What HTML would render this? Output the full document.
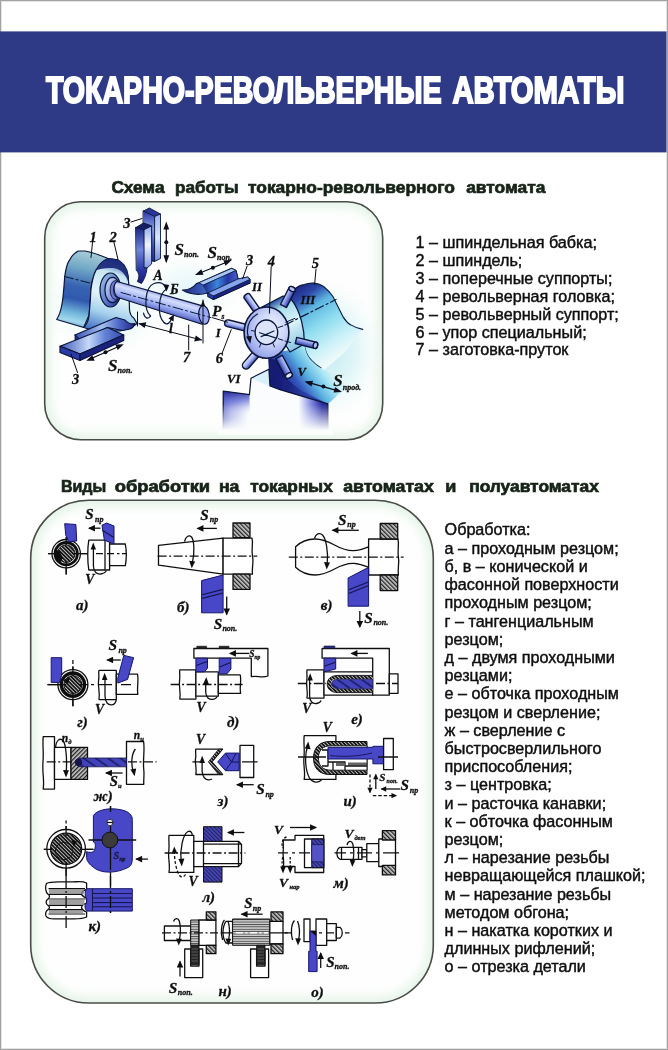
<!DOCTYPE html>
<html lang="ru">
<head>
<meta charset="utf-8">
<title>Токарно-револьверные автоматы</title>
<style>
html,body{margin:0;padding:0;background:#fff;}
body{width:668px;height:1050px;overflow:hidden;position:relative;font-family:"Liberation Sans",sans-serif;}
svg{position:absolute;left:0;top:0;display:block;}
text{font-family:"Liberation Sans",sans-serif;}
.ser text{font-family:"Liberation Serif",serif;font-style:italic;font-weight:bold;fill:#111;stroke:#111;stroke-width:0.3px;}
.hd{font-weight:bold;fill:#18241a;font-size:16.4px;stroke:#18241a;stroke-width:0.7px;}
.k{stroke:#111;stroke-width:1.3;fill:none}
.w{stroke:#111;stroke-width:1.3;fill:#fff}
.b{stroke:#16166a;stroke-width:1;fill:#4646c8}
.h{fill:url(#hatch);stroke:#111;stroke-width:1.3}
.ax{stroke:#111;stroke-width:1.3;stroke-dasharray:9 2.5 2 2.5;fill:none}
.li{font-size:16.15px;fill:#0a0a0a;stroke:#0a0a0a;stroke-width:0.4px;}
</style>
</head>
<body>
<svg width="668" height="1050" viewBox="0 0 668 1050">
<defs>
<filter id="soft" x="-5%" y="-5%" width="110%" height="110%"><feGaussianBlur stdDeviation="0.45"/></filter>
<filter id="soft2" x="-5%" y="-20%" width="110%" height="140%"><feGaussianBlur stdDeviation="0.35"/></filter>
<clipPath id="p1clip"><rect x="44.7" y="201.7" width="338" height="238" rx="36" ry="36"/></clipPath>
<clipPath id="p2clip"><rect x="30.7" y="500.2" width="402.6" height="502.8" rx="58" ry="58"/></clipPath>
<filter id="blur5" x="-10%" y="-10%" width="120%" height="120%"><feGaussianBlur stdDeviation="4"/></filter>
<!--TOPDEFS-->
<radialGradient id="glow"><stop offset="0" stop-color="#b4e6f0"/><stop offset="0.55" stop-color="#d2f1f5" stop-opacity="0.75"/><stop offset="1" stop-color="#eefafa" stop-opacity="0"/></radialGradient>
<linearGradient id="hsSide" gradientUnits="userSpaceOnUse" x1="84" y1="251" x2="68" y2="328"><stop offset="0" stop-color="#a8ccd8"/><stop offset="0.22" stop-color="#70a8c6"/><stop offset="0.45" stop-color="#3864b2"/><stop offset="0.62" stop-color="#2f58ae"/><stop offset="0.8" stop-color="#74b8dc"/><stop offset="0.9" stop-color="#a4d8ec"/><stop offset="1" stop-color="#5088c4"/></linearGradient>
<linearGradient id="hsFront" gradientUnits="userSpaceOnUse" x1="120" y1="262" x2="98" y2="330"><stop offset="0" stop-color="#3a5cb0"/><stop offset="0.18" stop-color="#c8e6f2"/><stop offset="0.5" stop-color="#e2f4fa"/><stop offset="0.75" stop-color="#a4d0ec"/><stop offset="1" stop-color="#4a78c8"/></linearGradient>
<linearGradient id="ring1" x1="0" y1="0" x2="1" y2="1"><stop offset="0" stop-color="#a4cae8"/><stop offset="0.5" stop-color="#6080d0"/><stop offset="1" stop-color="#1c2a88"/></linearGradient>
<linearGradient id="ring2" x1="0" y1="0" x2="1" y2="1"><stop offset="0" stop-color="#d0e0f8"/><stop offset="0.6" stop-color="#8296dc"/><stop offset="1" stop-color="#2c3aa0"/></linearGradient>
<linearGradient id="shaft" gradientUnits="userSpaceOnUse" x1="166" y1="293" x2="160" y2="314"><stop offset="0" stop-color="#7c8cdc"/><stop offset="0.28" stop-color="#d4defc"/><stop offset="0.6" stop-color="#9cacf0"/><stop offset="1" stop-color="#4450b8"/></linearGradient>
<linearGradient id="barA" x1="0" y1="0" x2="1" y2="0"><stop offset="0" stop-color="#3a52b4"/><stop offset="0.45" stop-color="#a4c0f0"/><stop offset="0.75" stop-color="#4a64c4"/><stop offset="1" stop-color="#1c2684"/></linearGradient>
<linearGradient id="barTop" x1="0" y1="0" x2="1" y2="0"><stop offset="0" stop-color="#3e58b8"/><stop offset="0.45" stop-color="#c4d8f8"/><stop offset="0.7" stop-color="#6484d6"/><stop offset="1" stop-color="#3448ac"/></linearGradient>
<linearGradient id="vbarA" x1="0" y1="0" x2="0" y2="1"><stop offset="0" stop-color="#2a34a0"/><stop offset="0.35" stop-color="#8aa0ea"/><stop offset="0.7" stop-color="#3c4cbc"/><stop offset="1" stop-color="#222a90"/></linearGradient>
<linearGradient id="vbarB" x1="0" y1="0" x2="0" y2="1"><stop offset="0" stop-color="#98aef0"/><stop offset="0.5" stop-color="#dce6fc"/><stop offset="1" stop-color="#7088e0"/></linearGradient>
<linearGradient id="vbarC" x1="0" y1="0" x2="0" y2="1"><stop offset="0" stop-color="#1c2484"/><stop offset="0.4" stop-color="#6f86de"/><stop offset="0.75" stop-color="#2c38a4"/><stop offset="1" stop-color="#1a2078"/></linearGradient>
<linearGradient id="vbarD" x1="0" y1="0" x2="0" y2="1"><stop offset="0" stop-color="#8ea6ee"/><stop offset="0.45" stop-color="#f0f4fe"/><stop offset="1" stop-color="#8096e6"/></linearGradient>
<linearGradient id="rtool" x1="0" y1="0" x2="1" y2="0"><stop offset="0" stop-color="#1e2684"/><stop offset="0.45" stop-color="#4a7ad6"/><stop offset="0.75" stop-color="#2a38a8"/><stop offset="1" stop-color="#5a70d4"/></linearGradient>
<linearGradient id="rtoolF" x1="0" y1="0" x2="1" y2="0"><stop offset="0" stop-color="#1e2a8c"/><stop offset="0.4" stop-color="#3c86dc"/><stop offset="0.7" stop-color="#2436a4"/><stop offset="1" stop-color="#4a62cc"/></linearGradient>
<linearGradient id="hump" gradientUnits="userSpaceOnUse" x1="300" y1="284" x2="345" y2="352"><stop offset="0" stop-color="#1c2684"/><stop offset="0.15" stop-color="#2c46a8"/><stop offset="0.32" stop-color="#5cb4e0"/><stop offset="0.55" stop-color="#8cdcf0"/><stop offset="0.8" stop-color="#c8f0f8"/><stop offset="1" stop-color="#eefafa"/></linearGradient>
<linearGradient id="bedL" gradientUnits="userSpaceOnUse" x1="223" y1="400" x2="328" y2="400"><stop offset="0" stop-color="#3a3cb0"/><stop offset="0.08" stop-color="#8c96e2"/><stop offset="0.24" stop-color="#fafcfe"/><stop offset="0.72" stop-color="#fafcfe"/><stop offset="0.84" stop-color="#8088de"/><stop offset="0.94" stop-color="#2c2ea4"/><stop offset="1" stop-color="#1e2088"/></linearGradient>
<linearGradient id="fadeW" x1="0" y1="0" x2="0" y2="1"><stop offset="0" stop-color="#fbfdfc" stop-opacity="0"/><stop offset="0.85" stop-color="#fbfdfc" stop-opacity="1"/></linearGradient>
<linearGradient id="turBody" gradientUnits="userSpaceOnUse" x1="275" y1="300" x2="300" y2="345"><stop offset="0" stop-color="#2a4aa0"/><stop offset="0.2" stop-color="#a8dcec"/><stop offset="0.55" stop-color="#dcf4f8"/><stop offset="1" stop-color="#8cc8e6"/></linearGradient>
<linearGradient id="pin" x1="0" y1="0" x2="0" y2="1"><stop offset="0" stop-color="#c8d2fa"/><stop offset="0.5" stop-color="#7a8ce0"/><stop offset="1" stop-color="#2c38a0"/></linearGradient>
<linearGradient id="pin2" x1="0" y1="0" x2="0" y2="1"><stop offset="0" stop-color="#3c48b0"/><stop offset="0.5" stop-color="#a8b6f2"/><stop offset="1" stop-color="#dfe6fc"/></linearGradient>
<radialGradient id="turFace" cx="0.62" cy="0.4" r="0.78"><stop offset="0" stop-color="#f2f5fe"/><stop offset="0.4" stop-color="#ccd6f8"/><stop offset="0.75" stop-color="#9aa8ec"/><stop offset="1" stop-color="#5a68cc"/></radialGradient>
<linearGradient id="slideBody" gradientUnits="userSpaceOnUse" x1="284" y1="386" x2="326" y2="356"><stop offset="0" stop-color="#1e2a8c"/><stop offset="0.25" stop-color="#3456bc"/><stop offset="0.5" stop-color="#5cb4e2"/><stop offset="0.75" stop-color="#a8e6f4"/><stop offset="1" stop-color="#dff6fa" stop-opacity="0.2"/></linearGradient>
<linearGradient id="wedge" gradientUnits="userSpaceOnUse" x1="270" y1="380" x2="310" y2="392"><stop offset="0" stop-color="#171a70"/><stop offset="0.45" stop-color="#1b2280"/><stop offset="1" stop-color="#2c44ac"/></linearGradient>
<linearGradient id="bedTopShade" gradientUnits="userSpaceOnUse" x1="236" y1="391" x2="238" y2="418"><stop offset="0" stop-color="#2a2c9c"/><stop offset="0.35" stop-color="#6a74d4" stop-opacity="0.8"/><stop offset="1" stop-color="#fafcfe" stop-opacity="0"/></linearGradient>
<!--/TOPDEFS-->
<!--BOTDEFS-->
<pattern id="hatch" patternUnits="userSpaceOnUse" width="3" height="3" patternTransform="rotate(-45)"><rect width="3" height="3" fill="#c8c8c8"/><rect width="1.3" height="3" fill="#222"/></pattern>
<pattern id="hatchD" patternUnits="userSpaceOnUse" width="2.6" height="2.6" patternTransform="rotate(-45)"><rect width="2.6" height="2.6" fill="#c4c4c4"/><rect width="1.7" height="2.6" fill="#111"/></pattern>
<pattern id="hatchB" patternUnits="userSpaceOnUse" width="2.8" height="2.8" patternTransform="rotate(-45)"><rect width="2.8" height="2.8" fill="#4a4ab8"/><rect width="1.2" height="2.8" fill="#20206a"/></pattern>
<pattern id="knurl" patternUnits="userSpaceOnUse" width="3" height="2.4"><rect width="3" height="2.4" fill="#cfcfcf"/><rect width="3" height="0.9" fill="#444"/></pattern>
<pattern id="twist" patternUnits="userSpaceOnUse" width="7" height="7" patternTransform="rotate(-55)"><rect width="7" height="7" fill="#4343bb"/><rect width="1.6" height="7" fill="#1a1a66"/></pattern>
<marker id="ah" viewBox="0 0 10 10" refX="8.5" refY="5" markerWidth="8.8" markerHeight="7" orient="auto-start-reverse" markerUnits="userSpaceOnUse"><path d="M0,0.3 L10,5 L0,9.7 Z" fill="#111"/></marker>
<marker id="ahs" viewBox="0 0 10 10" refX="8.5" refY="5" markerWidth="6.8" markerHeight="5.6" orient="auto-start-reverse" markerUnits="userSpaceOnUse"><path d="M0,0.3 L10,5 L0,9.7 Z" fill="#111"/></marker>
<pattern id="hatchF" patternUnits="userSpaceOnUse" width="3" height="3" patternTransform="rotate(45)"><rect width="3" height="3" fill="#c8c8c8"/><rect width="1.3" height="3" fill="#222"/></pattern>
<!--/BOTDEFS-->
</defs>
<!-- page -->
<rect x="0" y="0" width="668" height="1050" fill="#ffffff"/>
<!-- page frame -->
<rect x="1.5" y="1.5" width="665" height="1047" fill="none" stroke="#e4e4e4" stroke-width="1"/>
<rect x="0.5" y="0.5" width="667" height="1049" fill="none" stroke="#a2a2a2" stroke-width="1"/>
<!-- title band -->
<rect x="0" y="31.4" width="666.5" height="121" fill="#2e3a86"/>
<g filter="url(#soft2)" font-size="37.4" font-weight="bold" fill="#ffffff" stroke="#ffffff" stroke-width="2" stroke-linejoin="miter">
<text x="45.9" y="102.6" textLength="395.6" lengthAdjust="spacingAndGlyphs">ТОКАРНО-РЕВОЛЬВЕРНЫЕ</text>
<text x="452.4" y="102.6" textLength="172" lengthAdjust="spacingAndGlyphs">АВТОМАТЫ</text>
</g>

<g filter="url(#soft)">
<!-- headings -->
<text class="hd" x="111.4" y="192.6" textLength="53.1" lengthAdjust="spacingAndGlyphs">Схема</text>
<text class="hd" x="175.0" y="192.6" textLength="63.5" lengthAdjust="spacingAndGlyphs">работы</text>
<text class="hd" x="248.0" y="192.6" textLength="206.8" lengthAdjust="spacingAndGlyphs">токарно-револьверного</text>
<text class="hd" x="466.2" y="192.6" textLength="79.1" lengthAdjust="spacingAndGlyphs">автомата</text>
<text class="hd" x="60.9" y="492.4" textLength="45.4" lengthAdjust="spacingAndGlyphs">Виды</text>
<text class="hd" x="114.7" y="492.4" textLength="95.4" lengthAdjust="spacingAndGlyphs">обработки</text>
<text class="hd" x="218.9" y="492.4" textLength="20.5" lengthAdjust="spacingAndGlyphs">на</text>
<text class="hd" x="250.2" y="492.4" textLength="82.6" lengthAdjust="spacingAndGlyphs">токарных</text>
<text class="hd" x="343.2" y="492.4" textLength="90.6" lengthAdjust="spacingAndGlyphs">автоматах</text>
<text class="hd" x="445.2" y="492.4" textLength="11.1" lengthAdjust="spacingAndGlyphs">и</text>
<text class="hd" x="469.2" y="492.4" textLength="129.6" lengthAdjust="spacingAndGlyphs">полуавтоматах</text>

<!-- panels -->
<rect x="44.7" y="201.7" width="338" height="238" rx="36" ry="36" fill="#fdfefd" stroke="none"/>
<g clip-path="url(#p1clip)"><rect x="44.7" y="201.7" width="338" height="238" rx="36" ry="36" fill="none" stroke="#d2ecd8" stroke-width="12" filter="url(#blur5)" opacity="0.55"/></g>
<rect x="44.7" y="201.7" width="338" height="238" rx="36" ry="36" fill="none" stroke="#484c46" stroke-width="1.6"/>
<rect x="30.7" y="500.2" width="402.6" height="502.8" rx="58" ry="58" fill="#fdfefd" stroke="none"/>
<g clip-path="url(#p2clip)"><rect x="30.7" y="500.2" width="402.6" height="502.8" rx="58" ry="58" fill="none" stroke="#d2ecd8" stroke-width="12" filter="url(#blur5)" opacity="0.55"/></g>
<rect x="30.7" y="500.2" width="402.6" height="502.8" rx="58" ry="58" fill="none" stroke="#484c46" stroke-width="1.6"/>

<!--TOP-->
<!-- ===== TOP DIAGRAM ===== -->
<g id="topdiag" stroke-linejoin="round" stroke-linecap="round">
<!-- soft cyan glow backgrounds -->
<ellipse cx="105" cy="305" rx="60" ry="50" fill="url(#glow)" opacity="0.55"/>
<ellipse cx="322" cy="350" rx="62" ry="70" fill="url(#glow)" opacity="0.9"/>
<ellipse cx="190" cy="290" rx="50" ry="35" fill="url(#glow)" opacity="0.35"/>

<!-- headstock 1 -->
<path d="M56.7,319.5 C59.5,315 61,310 62,304 C63.5,296 63.8,288 64.8,276 C66,268 67,264 68.9,261.2 C71.5,256 74,253 78.3,251 L85,251 C94,252.5 102,256 108,258.5 L117.4,259.8 L96,270 L91.5,284 L90.4,299 L89.1,315 L83.7,327.5 Z" fill="url(#hsSide)" stroke="#0a1438" stroke-width="1.2"/>
<path d="M83.7,327.5 C87,324 88.8,319 89.1,315 L90.4,299 C90.6,292 91,288 91.8,284 C92.8,278 94,274 95.8,270.6 C99,264 103,260.5 108,258.5 L117.4,259.8 C120.5,261 122.5,263 124.1,265.2 C126.5,268.5 127.6,272 128.2,276 L128.8,285.4 L129.5,309.7 C130,314 131.5,316.5 133.6,317.8 C135,319.5 136,321.5 137,323.5 L131,328 L120,331 L95,331 Z" fill="url(#hsFront)" stroke="#0a1438" stroke-width="1.2"/>
<path d="M95.8,270.6 C99,264 103,260.5 108,258.5 L117.4,259.8 C120.5,261 122.5,263 124.1,265.2 C126.5,268.5 127.6,272 128.2,276 L128.6,283 C126,274 120,268.5 113,268 C106,267.6 100,268.6 95.8,270.6 Z" fill="#1a2878" stroke="none" opacity="0.92"/>

<path d="M64.5,276.5 L92,283.5" stroke="#0a1a3a" stroke-width="1.1" stroke-dasharray="9 3 2 3" fill="none"/>
<!-- spindle rings -->
<ellipse cx="110.5" cy="290" rx="10.5" ry="17" fill="url(#ring1)" stroke="#0a1438" stroke-width="1.2"/>
<ellipse cx="112.5" cy="290" rx="7.6" ry="12.6" fill="url(#ring2)" stroke="#0a1438" stroke-width="1.2"/>
<ellipse cx="115.5" cy="290" rx="5.4" ry="9.4" fill="#6a78d0" stroke="#0a1a3a" stroke-width="0.9"/>
<ellipse cx="117.5" cy="290" rx="4" ry="7.6" fill="#aab8ec" stroke="#0a1a3a" stroke-width="0.8"/>

<path d="M117,281.5 L203.4,306.2 C209.5,309 209.5,321 202,324.2 L118,297.5 C113,295 113,283.5 117,281.5 Z" fill="url(#shaft)" stroke="#0a1438" stroke-width="1.2"/>
<ellipse cx="204" cy="315" rx="5.2" ry="9.3" transform="rotate(-8 204 315)" fill="#98a8f2" stroke="#0a1438" stroke-width="1.2"/>
<path d="M121,292.5 L211,317.6" stroke="#0a1a3a" stroke-width="1" stroke-dasharray="10 3 2 3" fill="none"/>
<!-- rotation rings on shaft -->
<path d="M150.5,316 C143,309 145,287 154,283.5 C161,281 165,284 166,289" fill="none" stroke="#0a1a3a" stroke-width="1.2"/>
<path d="M150.5,316 C148,320 144.5,318 143.5,313" fill="none" stroke="#0a1438" stroke-width="1.2"/>
<path d="M164,322.5 C157,316 158,294 166.5,289" fill="none" stroke="#0a1a3a" stroke-width="1.2"/>
<path d="M164,322.5 C167,325.5 170,323 171.5,319" fill="none" stroke="#0a1a3a" stroke-width="1.2"/>
<path d="M163.2,284 L169.2,285 L166.6,291.5 Z" fill="#0a0a1a" stroke="none"/>
<path d="M174,314.5 L168.5,318.5 L173.5,321.5 Z" fill="#0a0a1a" stroke="none"/>

<!-- lower-left slides (3) -->
<path d="M75,335 L116,317.5 L125,320 C127,322.5 130,324.5 135,323.7 C134,326 132.5,328 130,329 L122.5,330.5 L107.5,327.5 L80,340.5 Z" fill="url(#barA)" stroke="#0a1438" stroke-width="1.2"/>
<path d="M75,335 L75,341 L80,344.5 L80,340.5 Z" fill="#24308c" stroke="#0a1a3a" stroke-width="0.8"/>
<path d="M60,346.3 L107.5,327.5 L123.7,335 L80,354 Z" fill="url(#barTop)" stroke="#0a1438" stroke-width="1.2"/>
<path d="M60,346.3 L60,352.5 L80,360.5 L80,354 Z" fill="#2a3aa8" stroke="#0a1438" stroke-width="1.2"/>
<path d="M80,354 L123.7,335 L123.7,340.5 L80,360.5 Z" fill="#1c2480" stroke="#0a1438" stroke-width="1.2"/>

<!-- vertical tool (3 top) -->
<path d="M143.4,211 L149.3,208 L160.5,214 L154.6,216.5 Z" fill="#2a3498" stroke="#0a1a3a" stroke-width="0.9"/>
<path d="M154.6,216.5 L160.5,214 L160.5,258.5 L154.6,261.5 Z" fill="url(#vbarB)" stroke="#0a1a3a" stroke-width="0.9"/>
<path d="M143.4,211 L154.6,216.5 L154.6,261.5 L151.6,261 L151.6,226 L143.4,223 Z" fill="url(#vbarA)" stroke="#0a1a3a" stroke-width="0.9"/>
<path d="M135.9,227.5 L143.4,223 L151.6,226 L144,229.7 Z" fill="#161c6c" stroke="#0a1a3a" stroke-width="0.9"/>
<path d="M144,229.7 L151.6,226 L151.6,264 L147,268 L144,268 Z" fill="url(#vbarD)" stroke="#0a1a3a" stroke-width="0.9"/>
<path d="M135.9,227.5 L144,229.7 L144,268 L147,268 C146.5,274 144.5,279 141.5,283.5 L137.3,281.5 C139.5,277.5 139.5,273.5 136.5,270.5 Z" fill="url(#vbarC)" stroke="#0a1a3a" stroke-width="0.9"/>

<!-- right tool (3) -->
<path d="M182.4,290 C188,290 193,288 196.5,283.5 L199.4,282.6 L231.6,268.4 L236,270.5 L238,279 L247.5,277 L250,279.5 L250,283 L213.5,299.5 L208,296.5 L208,293 C200,295 190,294.5 182.4,290 Z" fill="url(#rtool)" stroke="#0a1438" stroke-width="1.2"/>
<path d="M199.4,282.6 L231.6,268.4 L236,270.5 L203.5,285 Z" fill="#a8c6f6" stroke="#0a1a3a" stroke-width="0.7"/>
<path d="M203.5,285 L236,270.5 L238,279 L208,293 Z" fill="url(#rtoolF)" stroke="#0a1a3a" stroke-width="0.7"/>
<path d="M208,293 L238,279 L247.5,277 L250,279.5 L213.5,296 Z" fill="#86a4ec" stroke="#0a1a3a" stroke-width="0.7"/>
<path d="M213.5,296 L250,279.5 L250,283 L213.5,299.5 Z" fill="#1c2480" stroke="#0a1a3a" stroke-width="0.7"/>
<path d="M208,293 L213.5,296 L213.5,299.5 L208,296.5 Z" fill="#2a3aa8" stroke="#0a1a3a" stroke-width="0.7"/>

<!-- turret slide 5 (hump) -->
<path d="M294.7,289 C298,286 301,285 304.4,284.5 C308,283 311,282.8 313.4,283 C318,283.5 321,284.5 323.9,286.7 C328,290 330.5,293 332.9,296.5 L337.4,305.4 L343.4,317.4 C346,321.5 348,323.5 350.8,324.9 C355,327.5 359,328.8 362.8,329.4 L345,352 L322,372 L306,372 L290,350 L284,315 Z" fill="url(#hump)" stroke="none"/>
<path d="M294.7,289 C298,286 301,285 304.4,284.5 C308,283 311,282.8 313.4,283 C318,283.5 321,284.5 323.9,286.7 C328,290 330.5,293 332.9,296.5 L337.4,305.4 L343.4,317.4 C346,321.5 348,323.5 350.8,324.9 C355,327.5 359,328.8 362.8,329.4" fill="none" stroke="#0a1a3a" stroke-width="1.1"/>
<path d="M304,343 C305,352 308.5,358 312,361 C315,364.5 318,366.5 321,368" fill="none" stroke="#0a1438" stroke-width="1.2"/>

<!-- bed / base -->
<path d="M268.9,369.2 L268.5,354 L290,350 L304.4,343 C305,352 308.5,358 312,361 C315,364.5 318,366.5 321,368 L350,384 L327.9,403.9 L280,389.7 L270,386 Z" fill="url(#slideBody)" stroke="none"/>
<path d="M223.2,391 L249.4,394.6 L251,378.2 L268.9,369.2 L270,386 L280,389.7 L327.9,403.9 L327.9,434 L223.2,434 Z" fill="url(#bedL)" stroke="none"/>
<path d="M223.2,391 L249.4,394.6 L250,420 L223.2,420 Z" fill="url(#bedTopShade)" stroke="none"/>
<path d="M251,378.2 L268.9,369.2 L270,386 L262,383 Z" fill="#d8f0f8" stroke="none"/>
<path d="M268.3,358 L286,362 L288,380 L300,390 L327.9,403.9 L280,389.7 L270,386 L268.9,369.2 Z" fill="url(#wedge)" stroke="none"/>
<path d="M223.2,434 L223.2,391 L249.4,394.6 L251,378.2 L268.9,369.2 L270,386 L280,389.7 L327.9,403.9 L327.9,433" fill="none" stroke="#0a1438" stroke-width="1.2"/>
<rect x="218" y="404" width="115" height="31" fill="url(#fadeW)" stroke="none"/>

<!-- turret cylinder body -->
<path d="M262,307 L283,296 C287,296 289.5,297 291,299 C296,305 299,312 301.5,321 C304,330 304.5,338 304.4,344 L290,352 Z" fill="url(#turBody)" stroke="#0a1438" stroke-width="1.2"/>
<!-- pins -->
<g stroke="#0a1438" stroke-width="1.4">
<path d="M0,-3.4 L19,-3.4 A2.3,3.4 0 0 1 19,3.4 L0,3.4 Z" transform="translate(283.5,306) rotate(-63)" fill="url(#pin)"/>
<ellipse cx="0" cy="0" rx="2.3" ry="3.4" transform="translate(292.1,289.1) rotate(-63)" fill="#b6c2f6"/>
<path d="M0,-3.4 L19,-3.4 A2.3,3.4 0 0 1 19,3.4 L0,3.4 Z" transform="translate(258,312) rotate(-125)" fill="url(#pin2)"/>
<path d="M0,-3.4 L18.5,-3.4 A3.4,3.4 0 0 1 18.5,3.4 L0,3.4 Z" transform="translate(246,327.8) rotate(-166)" fill="url(#pin2)"/>
<path d="M0,-3.2 L20,-3.2 A2.2,3.2 0 0 1 20,3.2 L0,3.2 Z" transform="translate(296,340.5) rotate(14)" fill="url(#pin)"/>
<ellipse cx="0" cy="0" rx="2.2" ry="3.2" transform="translate(315.4,345.3) rotate(14)" fill="#b6c2f6"/>
<path d="M0,-3.7 L15,-3.7 A3.7,3.7 0 0 1 15,3.7 L0,3.7 Z" transform="translate(256,354) rotate(131)" fill="url(#pin2)"/>
<path d="M0,-3.7 L21,-3.7 A2.4,3.7 0 0 1 21,3.7 L0,3.7 Z" transform="translate(279,357) rotate(62)" fill="url(#pin)"/>
<ellipse cx="0" cy="0" rx="2.4" ry="3.7" transform="translate(288.9,375.5) rotate(62)" fill="#e0e6fc"/>
</g>
<!-- turret front disc -->
<ellipse cx="266.5" cy="332.6" rx="22.4" ry="25.6" fill="url(#turFace)" stroke="#0a1438" stroke-width="1.6"/>
<ellipse cx="266.4" cy="332.3" rx="11.3" ry="12.3" fill="#dce4fc" stroke="#0a1438" stroke-width="1.4"/>
<path d="M259.6,332.7 L275.4,337.9 M261.1,336.6 L273.9,331" stroke="#0a1a3a" stroke-width="1.2" fill="none"/>
<path d="M257.4,314 C250,318.5 247,326 247.5,333 L248.6,339" fill="none" stroke="#0a1a3a" stroke-width="1.2"/>
<path d="M246,336.5 L250.3,343.8 L251.8,336 Z" fill="#0a0a1a"/>
<g stroke="#0a1a3a" stroke-width="1" fill="none">
<path d="M251.5,330.5 L254.5,331.2"/><path d="M278.3,327.5 L282.8,326"/><path d="M278.3,338.7 L282.8,340.2"/>
<path d="M285.8,322.2 L294.8,318.4"/><path d="M285,341 L290.5,342.5"/><path d="M261,343.5 L259.5,347"/><path d="M273,343.5 L274.5,347"/>
</g>
<!-- turret axis -->
<path d="M285,325 L336,299.5" stroke="#0a1a3a" stroke-width="1.2" stroke-dasharray="9 3 2 3" fill="none"/>

<!-- leaders / dimension lines -->
<g stroke="#0a0a1a" stroke-width="1" fill="none">
<path d="M137.5,312 L137.5,326"/>
<path d="M203,300 L203,343"/>
<path d="M139,323.7 L201.5,340"/>
<path d="M188.7,325 L188.7,350"/>
<path d="M71,354 L77.5,372.5"/>
<path d="M271.2,266.7 L269.4,313.2"/>
<path d="M316,269 L314.6,284.5"/>
<path d="M247.2,266 L242.7,278.5"/>
<path d="M92.5,242.5 L91,257.5"/>
<path d="M114,242.5 L118,259.5"/>
<path d="M131,222 L142,218.5"/>
<path d="M231.2,329.7 L222.2,353"/>
<path d="M212.5,317.7 L227.5,322.2"/>
<path d="M166.3,225 L166.3,261" stroke-width="1.2"/>
<path d="M198,273.8 L229,261.2" stroke-width="1.2"/>
<path d="M89,359.5 L121,345.5" stroke-width="1.2"/>
<path d="M307,382.2 L339,391.2" stroke-width="1.2"/>
</g>
<g fill="#0a0a1a" stroke="none">
<path d="M138.5,323.6 L146.3,322.3 L144.7,328.1 Z"/>
<path d="M202,340.1 L194.2,341.4 L195.8,335.6 Z"/>
<path d="M166.3,221.5 L163.4,229.5 L169.2,229.5 Z"/>
<path d="M166.3,263.2 L163.4,255.2 L169.2,255.2 Z"/>
<circle cx="166.3" cy="242.2" r="2"/>
<path d="M195,275 L203.5,274.7 L201.3,269.3 Z"/>
<path d="M231.8,260 L223.3,260.3 L225.5,265.7 Z"/>
<circle cx="212.9" cy="267.7" r="2"/>
<path d="M86.3,360.8 L94.7,360.7 L92.3,355.2 Z"/>
<path d="M123.7,344.3 L115.3,344.4 L117.7,349.9 Z"/>
<circle cx="105.5" cy="352.3" r="2"/>
<path d="M304.5,381.4 L313,380.8 L311.4,386.5 Z"/>
<path d="M342,392 L333.5,392.6 L335.1,386.9 Z"/>
<circle cx="323.4" cy="386.6" r="2"/>
<path d="M203,300 L200.8,306 L205.2,306 Z"/>
</g>

<!-- labels -->
<g class="ser">
<text x="89.5" y="241.7" font-size="14.5">1</text>
<text x="109.5" y="241.7" font-size="14.5">2</text>
<text x="123.3" y="227.5" font-size="14.5">3</text>
<text x="246" y="265.2" font-size="14.5">3</text>
<text x="267.8" y="266" font-size="14.5">4</text>
<text x="311.8" y="267.5" font-size="14.5">5</text>
<text x="215.8" y="363.2" font-size="14.5">6</text>
<text x="183" y="361.5" font-size="14.5">7</text>
<text x="72" y="384" font-size="14.5">3</text>
<text x="153.5" y="280.2" font-size="13.6">А</text>
<text x="170" y="293.7" font-size="13.6">Б</text>
<text x="169" y="333" font-size="13.6">l</text>
<text x="252" y="291.4" font-size="12.7">II</text>
<text x="300.5" y="304" font-size="12.7">III</text>
<text x="215.8" y="337.2" font-size="12.7">I</text>
<text x="227" y="382.7" font-size="12.7">VI</text>
<text x="297.5" y="376" font-size="12.7">V</text>
<text x="212.3" y="315.5" font-size="15">P</text><text x="221.5" y="318.6" font-size="7.5">s</text>
<text x="174.6" y="255" font-size="17">S</text><text x="184" y="257.2" font-size="8">поп.</text>
<text x="207.6" y="258" font-size="17">S</text><text x="217" y="260.2" font-size="8">поп.</text>
<text x="108" y="370.5" font-size="17">S</text><text x="117.6" y="373" font-size="8">поп.</text>
<text x="333.2" y="386" font-size="17">S</text><text x="342.8" y="389.7" font-size="8">прод.</text>
</g>
</g>
<!--/TOP-->

<!--BOT-->
<!-- ===== BOTTOM DIAGRAMS ===== -->
<g id="botdiag" stroke-linejoin="round">
<!-- (a) -->
<g>
<path class="k" d="M48.2,553.7 H126.8 M66.2,537.2 V574.6"/>
<circle cx="66.2" cy="553.7" r="14.2" class="w"/>
<circle cx="66.2" cy="553.7" r="11.2" fill="#fff" stroke="#111" stroke-width="2.8"/>
<circle cx="66.2" cy="553.7" r="8.8" fill="url(#hatchD)" stroke="#111" stroke-width="1"/>
<path d="M56,549 A11.3,11.3 0 0 0 60,563 L63,558 L60,552 Z" fill="#111"/>
<path class="k" d="M48.2,553.7 H58 M74,553.7 H88 M66.2,537.2 V545 M66.2,562 V574.6"/>
<path class="b" d="M64.7,523.7 L75.9,524.5 L76.7,541 L68.4,541.7 L67,537.5 L65.8,535.5 Z"/>
<path class="w" d="M88.8,540.2 H109.6 V570 H88.8 C87.4,562 87.4,548 88.8,540.2 Z"/>
<path class="w" d="M109.6,544 H125.3 C126.4,550 126.4,560 125.3,565.6 H109.6 Z"/>
<path class="k" d="M105,540.2 V570"/>
<path class="k" d="M96,553.7 H103 M107,553.7 H114 M117,553.7 h2.5 M122,553.7 H126.8"/>
<path class="b" d="M102,525.2 L106.6,523 L114,526 L114,544 L104.4,540.2 Z"/>
<path d="M102.6,530.5 L113.6,537.3" stroke="#15154a" stroke-width="1.2" fill="none"/>
<path class="k" d="M93.4,546 V566 C93.6,572 97,574.5 101,574 C103.5,573.7 105.3,572.6 106.3,571" stroke-width="1.3"/>
<path d="M93.3,542.6 L90.6,549.6 L96,549.6 Z" fill="#111"/>
<path class="k" d="M100.5,528.2 H89" marker-end="url(#ah)" stroke-width="1.8"/>
<g class="ser"><text x="85.3" y="519.2" font-size="15">S</text><text x="95.0" y="521.6" font-size="8">пр</text>
<text x="85.3" y="584.3" font-size="13.6">V</text><text x="75.9" y="610" font-size="15">а)</text></g>
</g>
<!-- (b) -->
<g>
<path class="w" d="M158.5,545.4 L223.1,538.2 V574.2 L158.5,565.2 Z"/>
<path class="w" d="M223.1,538.2 H252 C253.5,544 251,550 252.5,556 C254,562 251.5,568 252.5,574.2 H223.1 Z"/>
<rect class="h" x="233" y="523" width="17" height="14.6"/>
<rect class="h" x="233" y="574.2" width="17" height="15.2"/>
<path class="ax" d="M157.6,556.2 H257.3"/>
<path class="b" d="M201.6,580.6 L223.1,575 V612.8 H201.6 Z"/>
<path d="M202.2,594.8 L223,589.4 M202.2,598.4 L223,593" stroke="#15154a" stroke-width="1.1" fill="none"/>
<path class="k" d="M184.5,541.5 C185.5,536.5 189,534.5 191.5,537 C194,540 195,552 192.3,563" stroke-width="1.2"/>
<path d="M191.7,568.2 L189.2,560.8 L195.2,561.4 Z" fill="#111"/>
<path class="k" d="M216.9,528.4 H197.5" marker-end="url(#ah)" stroke-width="1.8"/>
<path class="k" d="M226.7,596.6 V614.5" marker-end="url(#ah)" stroke-width="1.8"/>
<g class="ser"><text x="200.2" y="520.3" font-size="15.2">S</text><text x="209.8" y="522.4" font-size="8">пр</text>
<text x="213.8" y="629" font-size="15.2">S</text><text x="222.4" y="630.9" font-size="8">поп.</text>
<text x="176.9" y="612.3" font-size="15">б)</text></g>
</g>
<!-- (v) -->
<g>
<path class="w" d="M295.6,546.8 C301,541.5 308,539 315,539 C323,539 329,542 334.5,545 C341,548.6 347,551 354,550.7 C360,550.4 364,548.5 368.6,546.8 V567.3 C364,565.6 360,563.8 354,563.4 C347,563 341,565.5 334.5,569 C329,572 323,575 315,575 C308,575 301,572.5 295.6,567.3 Z"/>
<path class="w" d="M368.6,539 H398 C399.3,545 397.2,551 398.4,557 C399.6,563 397.4,569 398.4,575 H368.6 Z"/>
<rect class="h" x="380.2" y="523.5" width="17.5" height="15.5"/>
<rect class="h" x="380.2" y="575" width="17.5" height="15.6"/>
<path class="ax" d="M288.8,557.2 H403.6"/>
<path class="b" d="M348.1,578 L368.6,567.3 V606.2 H348.1 Z"/>
<path d="M348.8,589.8 L368.4,581.9 M348.8,593.4 L368.4,585.5" stroke="#15154a" stroke-width="1.1" fill="none"/>
<path class="k" d="M314.5,538.5 C315.5,534 319.5,532 322.5,535 C326,538.6 328.5,552 327.2,564" stroke-width="1.2"/>
<path d="M326.7,569.4 L324,562 L330,562.4 Z" fill="#111"/>
<path class="k" d="M358.8,530.3 H332.5" marker-end="url(#ah)" stroke-width="1.8"/>
<path class="k" d="M359.8,611 V627" marker-end="url(#ah)" stroke-width="1.8"/>
<g class="ser"><text x="338" y="524.5" font-size="15.2">S</text><text x="347.2" y="526.6" font-size="8">пр</text>
<text x="364.3" y="622.7" font-size="15.2">S</text><text x="373.4" y="624.6" font-size="8">поп.</text>
<text x="320.7" y="610" font-size="15">в)</text></g>
</g>
<!-- (g) -->
<g>
<path class="k" d="M47.5,684.6 H60 M66,684.6 h3 M72.9,660 v4 M72.9,666.5 V706.3"/>
<circle cx="72.9" cy="684.6" r="15" class="w"/>
<circle cx="72.9" cy="684.6" r="11.6" fill="#fff" stroke="#111" stroke-width="3.4"/>
<circle cx="72.9" cy="684.6" r="9" fill="url(#hatchD)" stroke="#111" stroke-width="1"/>
<path d="M63,680 L70,677 L68,684 Z" fill="#111"/>
<path class="k" d="M72.9,666.5 V676 M72.9,693 V706.3 M58,684.6 H66 M80,684.6 H88 M91,684.6 h3"/>
<path class="b" d="M51.2,657.7 H61.7 V675 L59.5,682.4 H51.2 Z"/>
<path class="k" d="M47.5,684.6 H60" stroke-width="1.3"/>
<path class="w" d="M99,670.4 H116.3 V699.6 H99 C100.2,692 97.6,686 98.6,680 C99.4,676 98.2,673 99,670.4 Z"/>
<path class="w" d="M116.3,674.2 H137.5 C138.8,680 136.8,688 137.8,694.4 H116.3 Z"/>
<path class="k" d="M98,684.6 H112 M121,684.6 H131"/>
<path class="b" d="M123.8,655.4 L133.6,657.7 L127.6,679.4 L117.8,683.1 L117.8,678 Z"/>
<path class="k" d="M105,676.5 V696 C105.2,702.5 108,705.3 112,704.8 C114.4,704.4 115.8,702.6 116.3,699.6" stroke-width="1.3"/>
<path d="M104.6,672.8 L101.9,680 L107.5,680 Z" fill="#111"/>
<path class="k" d="M120.8,660 H107.2" marker-end="url(#ah)" stroke-width="1.8"/>
<g class="ser"><text x="108.5" y="649.5" font-size="15.4">S</text><text x="118.4" y="652.6" font-size="8">пр</text>
<text x="95" y="713.8" font-size="13.6">V</text><text x="77.2" y="727.3" font-size="15">г)</text></g>
</g>
<!-- (d) -->
<g>
<path class="w" d="M179.8,669.9 H195.9 V699.1 H179.8 C181,692 178.6,686 179.6,680 C180.3,676 179.2,673 179.8,669.9 Z"/>
<rect class="w" x="195.9" y="671.8" width="22.4" height="24.4"/>
<path class="w" d="M218.3,674.8 H240.2 C241.6,680 239.4,687 240.6,693.3 H218.3 Z"/>
<path class="w" d="M193.9,648.5 H267.9 V676 C262,678.3 257,675.2 251.3,676.7 V658.2 H193.9 Z"/>
<path d="M196.8,646.2 h9.8 v2.3 h-9.8 Z M219.2,646.2 h9.8 v2.3 h-9.8 Z" fill="#222" stroke="#111" stroke-width="0.6"/>
<path class="b" d="M195.9,658.2 H207.5 V668 L204.6,671.8 H195.9 Z"/>
<path class="b" d="M219.2,658.2 H230.9 V669 L227,673.8 H219.2 Z"/>
<path d="M196.3,665.5 L207.2,661.5 M219.6,667 L230.6,662.5" stroke="#15154a" stroke-width="1.1" fill="none"/>
<path class="ax" d="M170.6,684.5 H242.6" stroke-dasharray="2 3 9 3"/>
<path class="k" d="M205.7,681 V692 C206,697.5 209,699.8 213,699.3 C215.2,699 216.6,698 217.3,696.5" stroke-width="1.3"/>
<path d="M206.3,676.9 L203.2,684 L208.9,684.2 Z" fill="#111"/>
<path class="k" d="M249.4,653.4 H230" marker-end="url(#ah)" stroke-width="1.8"/>
<g class="ser"><text x="249.2" y="657.2" font-size="9.5">S</text><text x="254.5" y="659.2" font-size="5.5">пр</text>
<text x="196.5" y="711.7" font-size="13.6">V</text><text x="226.9" y="727.3" font-size="15">д)</text></g>
</g>
<!-- (e) -->
<g>
<path class="w" d="M307,669.9 H324 V698.1 H307 C308.2,691 305.8,686 306.8,680 C307.5,676 306.4,673 307,669.9 Z"/>
<rect class="w" x="324" y="671.8" width="48.7" height="23.4"/>
<path class="w" d="M322.1,648.5 H389.3 V695.2 H372.7 V658.2 H322.1 Z"/>
<rect class="w" x="389.3" y="673.8" width="8.7" height="19.5"/>
<path d="M324,646 h10.8 v2.5 h-10.8 Z" fill="#2a2a8a" stroke="#111" stroke-width="0.6"/>
<path class="b" d="M324,658.2 H335.7 V669 L324,671.8 Z"/>
<path d="M324.3,666.2 L335.4,662.2" stroke="#15154a" stroke-width="1.1" fill="none"/>
<path d="M372.7,677.2 H338 C332,677.2 329,680 329,684 C329,688 332,690.8 338,690.8 H372.7" fill="#fff" stroke="url(#hatchD)" stroke-width="3.6"/>
<path d="M372.7,675.4 H338 C331,675.4 327.2,679 327.2,684 C327.2,689 331,692.6 338,692.6 H372.7" fill="none" stroke="#111" stroke-width="0.9"/>
<path d="M372.7,679.2 H339 C334,679.2 331.5,681.2 331.5,684 C331.5,686.8 334,688.8 339,688.8 H372.7 Z" fill="url(#twist)" stroke="#15154a" stroke-width="0.8"/>
<path class="ax" d="M297.8,683.5 H326 M376,683.5 H398" stroke-dasharray="9 3 2 3"/>
<path class="k" d="M309.6,677.5 V696 C309.8,701.5 312.6,704 316.5,703.5 C318.8,703.2 320.4,702.2 321.1,700.6" stroke-width="1.3"/>
<path d="M310.2,673.2 L307.2,680.4 L312.9,680.5 Z" fill="#111"/>
<path class="k" d="M367.9,653.4 H351.5" marker-end="url(#ah)" stroke-width="1.8"/>
<g class="ser"><text x="302.3" y="712.7" font-size="13.6">V</text><text x="351.2" y="724.3" font-size="15">е)</text></g>
</g>
<!-- (zh) -->
<g>
<path class="w" d="M43.2,736.6 H54.5 V789.1 H43.2 C44.6,780 42,772 43,762 C43.8,752 42.4,744 43.2,736.6 Z"/>
<rect class="w" x="54.5" y="747.3" width="16.5" height="32.1"/>
<rect class="h" x="71" y="747.3" width="16.5" height="32.1" style="fill:url(#hatchF)"/>
<path class="w" d="M126.5,741.5 H143.6 C145,750 142.6,760 143.8,770 C144.4,776 143.4,780 143.8,784.3 H126.5 Z"/>
<path d="M76,762.4 C76,759.5 78,758 81,758 H126.5 V766.8 H81 C78,766.8 76,765.3 76,762.4 Z" fill="url(#twist)" stroke="#15154a" stroke-width="0.8"/>
<ellipse cx="78.5" cy="762.2" rx="3.6" ry="3.8" fill="#16164a"/>
<path class="ax" d="M46.7,761.9 H74 M128,761.9 H156.6" stroke-dasharray="9 3 2 3"/>
<path class="k" d="M55.5,748 C56,740 60,737.5 63,740.5 C66,744 67.2,760 66.2,772" stroke-width="1.3"/>
<path d="M66,777.5 L63,770 L69,770.2 Z" fill="#111"/>
<path class="k" d="M135.4,749 C131.5,754 130.8,764 133.2,771" stroke-width="1.3"/>
<path d="M134.6,776.2 L130.4,769.6 L136.2,768.4 Z" fill="#111"/>
<path class="k" d="M122.6,773 H106" marker-end="url(#ah)" stroke-width="1.8"/>
<g class="ser"><text x="61.8" y="741.5" font-size="11.5">n</text><text x="68.2" y="743.8" font-size="6.5">д</text>
<text x="133.8" y="738.5" font-size="11.5">n</text><text x="140.2" y="740.8" font-size="6.5">и</text>
<text x="109.8" y="786.2" font-size="14.6">S</text><text x="118" y="788.2" font-size="6.5">и</text>
<text x="93.4" y="800.5" font-size="15">ж)</text></g>
</g>
<!-- (z) -->
<g>
<path class="w" d="M195.8,749.2 H222.5 L211.8,761.9 L222.5,774.5 H195.8 C197,768 194.6,763 195.6,758 C196.2,755 195.2,752 195.8,749.2 Z"/>
<path d="M222.5,749.2 L211.8,761.9 L222.5,774.5 L218.6,774.5 L208.4,761.9 L218.6,749.2 Z" fill="url(#hatchD)" stroke="#111" stroke-width="0.8"/>
<path class="b" d="M217.7,761.9 L225.5,753.1 H239.1 V770.7 H225.5 Z"/>
<path d="M225.5,753.5 L231.5,762 L225.5,770.4 M231.5,762 H239 M231.5,762 L236,753.4" stroke="#15154a" stroke-width="1" fill="none"/>
<rect class="w" x="240" y="745.4" width="13.7" height="32.1"/>
<path class="k" d="M192.4,761.9 H200 M242,761.9 H257.6"/>
<path class="k" d="M202.1,760 V771 C202.4,777 205.4,780 209,779.8 C210.4,779.7 211.4,779.4 212,779" stroke-width="1.3"/>
<path d="M202.2,755.8 L199.4,763 L205,763 Z" fill="#111"/>
<path class="k" d="M253.7,784.7 H237" marker-end="url(#ah)" stroke-width="1.8"/>
<g class="ser"><text x="196" y="744.4" font-size="13.6">V</text>
<text x="256.2" y="794" font-size="15.2">S</text><text x="265.4" y="796.6" font-size="8">пр</text>
<text x="217.6" y="806.3" font-size="15">з)</text></g>
</g>
<!-- (i) -->
<g>
<path class="w" d="M304.2,735.6 H335.9 V779.4 H304.2 C305.6,772 303,765 304,757 C304.8,749 303.4,742 304.2,735.6 Z"/>
<path d="M367,741.5 H330 C319,741.5 313.5,748 313.5,758 C313.5,768 319,774.5 330,774.5 H367 Z" fill="url(#hatchD)" stroke="#111" stroke-width="1"/>
<path d="M367,745.8 H331 C322.5,745.8 318.4,750.6 318.4,758 C318.4,765.4 322.5,770.2 331,770.2 H367 Z" fill="#fff" stroke="#111" stroke-width="0.9"/>
<path class="k" d="M322,750 H328 V766 H322 M328,762 H345 V770 M345,766 H367 M333,762 V770" stroke-width="0.9"/>
<path d="M336,762.4 h8 v3.6 h-8 Z M348,762.4 h19 v3.6 h-19 Z" fill="#333" stroke="none" opacity="0.75"/>
<path class="b" d="M328,747.3 H372.9 V746.3 H383.6 V763.8 H372.9 V759 H328 Z"/>
<path d="M330,755.6 C345,757 358,756.5 372,753" stroke="#15154a" stroke-width="0.9" fill="none"/>
<rect class="w" x="383.6" y="738.5" width="9.7" height="31.2"/>
<path class="k" d="M298,757 H326 M378,757 H398"/>
<path class="k" d="M307.5,746 C304.5,756 305,770 309.5,778 C312.5,783 318,783.4 321.5,780" stroke-width="1.3"/>
<path d="M308.2,741.6 L304.8,748.6 L310.6,749.2 Z" fill="#111"/>
<path class="k" d="M375.8,789 V774.5" marker-end="url(#ahs)" stroke-width="1.5"/>
<path class="k" d="M370,774.5 V792.4" marker-end="url(#ahs)" stroke-width="1.5" stroke-dasharray="3 2"/>
<path class="k" d="M400,789 H381.4" marker-end="url(#ahs)" stroke-width="1.5"/>
<path class="k" d="M372.9,795.6 H396.2" marker-end="url(#ahs)" stroke-width="1.5" stroke-dasharray="3.4 2"/>
<g class="ser"><text x="322.8" y="731.7" font-size="13.6">V</text>
<text x="379.2" y="781.4" font-size="11">S</text><text x="386.6" y="783" font-size="6">поп.</text>
<text x="400.6" y="790" font-size="15.2">S</text><text x="409.8" y="792.8" font-size="8">пр</text>
<text x="343.4" y="805.5" font-size="15">и)</text></g>
</g>
<!-- (k) -->
<g>
<path class="k" d="M110.5,806 V916" stroke-dasharray="14 3 2 3"/>
<path class="b" d="M93.4,815.5 C96,811.5 103,809 111,808.8 C120,808.8 127,811 129.5,813.5 C131.5,815.5 132.3,817 132.3,819.5 V858 C132.3,863.5 131,866 128.4,867.3 C122,870.5 116,872.1 109,872.1 C102,872.1 96.5,870 93.4,867.3 C89.5,864.5 86.6,861 86.6,857.5 V851.7 C89,852.6 91.6,852.6 93.4,851.7 C95,850 95.6,846.5 95.3,843.9 C95,842.8 94.2,842.2 93.4,842 Z"/>
<path class="k" d="M110.5,806 V812 M110.5,826 V832 M110.5,848 V870 M88.5,840 H102 M118,840 H136.2"/>
<circle cx="109.9" cy="840" r="7.9" fill="#3a3a3a" stroke="#111" stroke-width="1"/>
<ellipse cx="109.9" cy="822.5" rx="3" ry="3.2" fill="#fff" stroke="#111" stroke-width="0.8"/>
<path class="k" d="M107,822.5 H112.8" stroke-width="0.9"/>
<path class="k" d="M43.8,849.4 H93.4 M66.1,820.6 v3 M66.1,826 V876"/>
<circle cx="66.1" cy="848.8" r="19.3" class="w"/>
<circle cx="66.1" cy="848.8" r="15.6" fill="url(#hatchD)" stroke="#111" stroke-width="1.2"/>
<circle cx="64" cy="851" r="8.6" fill="none" stroke="#111" stroke-width="0.9"/>
<path d="M71,839 L77,841.5 L74,847 Z" fill="#111"/>
<path class="k" d="M43.8,849.4 H52 M80,849.4 H93.4 M66.1,826 V836 M66.1,862 V876"/>
<path class="k" d="M147.9,859.1 H136.2" marker-end="url(#ah)" stroke-width="1.8"/>
<!-- side view -->
<path class="w" d="M46.5,883.5 C50,881.5 56,881.9 62,881.9 H72 C78,881.9 82,880.8 86.6,883 V889.5 C83,890.5 81.5,892 81.5,894.5 C83,896.5 85,897.6 86.6,898.5 V903 C84,904 81.8,905 81.5,907.5 C82,910 84,911.2 86.6,912 V917 C84,918.5 80,918.9 74,918.9 H54 C50,918.9 47,918 46,916 C45,913 46,911 48,909.5 C50,908 50,906.8 48,905.5 C45.5,904 45.5,900.5 48,899 C50,897.6 50,895.5 48,894.2 C45.4,892.6 45,886 46.5,883.5 Z"/>
<path d="M48.5,888.6 H85 M48.5,894.4 H81.5 M48.5,899 H85.5 M48.5,905.4 H82 M48.5,909.6 H82 M48.5,914 H85" stroke="#111" stroke-width="1.1" fill="none"/>
<path d="M49,889.2 H84 V894 H49 Z M49,899.6 H84.5 V905 H49 Z M49,910 H83 V913.6 H49 Z" fill="#8a8a8a" stroke="none" opacity="0.8"/>
<path class="b" d="M86.6,888.7 H132.3 V911.1 H86.6 C85,909 84,905 86.6,903 V898.5 C84.6,896 84.8,891 86.6,888.7 Z"/>
<path d="M92.5,893.5 H132 M92.5,898 H132 M92.5,902.6 H132 M92.5,906.8 H132 M92.5,889 V911" stroke="#15154a" stroke-width="1" fill="none"/>
<path class="k" d="M66.1,876 V930 M110.5,876 V916" stroke-dasharray="12 3 2 3"/>
<g class="ser"><text x="113.5" y="859" font-size="10" style="fill:#222266">S</text><text x="119.5" y="860.5" font-size="5.5" style="fill:#222266">пр</text>
<text x="88.4" y="930.5" font-size="15">к)</text></g>
</g>
<!-- (l) -->
<g>
<path class="w" d="M169,835.4 H193.8 V872.4 H169 C170.4,865 167.8,858 168.8,851 C169.6,845 168.4,840 169,835.4 Z"/>
<path class="w" d="M193.8,841.3 H238.5 L241.5,844.5 V863.4 L238.5,866.6 H193.8 Z"/>
<path class="k" d="M203.5,844.2 H241 M203.5,863.7 H241 M238.5,841.3 V866.6" stroke-width="0.9"/>
<rect x="203.5" y="826.7" width="18.5" height="14.6" fill="url(#hatchB)" stroke="#111" stroke-width="1"/>
<rect x="203.5" y="866.6" width="18.5" height="15.5" fill="url(#hatchB)" stroke="#111" stroke-width="1"/>
<path class="k" d="M203.5,841.3 V866.6" stroke-width="0.9"/>
<path class="ax" d="M164.6,853 H245.4"/>
<path class="k" d="M181.2,862 C179.6,850 183,834 188,831.5 C190.5,830.5 192.4,832.5 192.2,835.4" stroke-width="1.3"/>
<path d="M181.8,866.4 L178.4,859 L184.4,858.6 Z" fill="#111"/>
<path class="k" d="M174.4,851 C174.4,860 176,870 179.5,875.5 C181.5,878 184,877 185.5,874.5" stroke-width="1.3" stroke-dasharray="3 2"/>
<path d="M174.3,846.4 L171.6,853.6 L177.4,853.6 Z" fill="#111"/>
<path class="k" d="M244.4,832.5 H228" marker-end="url(#ah)" stroke-width="1.8"/>
<g class="ser"><text x="188.5" y="886" font-size="13.6">V</text><text x="202.4" y="901.5" font-size="15">л)</text></g>
</g>
<!-- (m) -->
<g>
<path class="w" d="M283.4,840 H295 V835.4 H323.7 V872.5 H295 V866.5 H283.4 C284.6,861 282.4,856 283.2,851 C283.8,846 282.8,843 283.4,840 Z"/>
<rect class="w" x="304.5" y="839" width="19.2" height="28.7"/>
<rect x="311.7" y="839" width="12" height="28.7" fill="url(#hatchB)" stroke="#111" stroke-width="0.9"/>
<rect x="311.7" y="844.6" width="12" height="17.2" fill="#5252c6" stroke="#15154a" stroke-width="0.7"/>
<path class="k" d="M278,852.8 H288 M292,852.8 h3 M299,852.8 H310" />
<path class="k" d="M290,827.5 H316" marker-end="url(#ah)" stroke-width="1.8"/>
<path class="k" d="M286.5,837 C282.5,838 281.4,843 282.6,848 M282.8,857 C281.6,862 282.2,866 283,869" stroke-width="1.1" stroke-dasharray="2.5 1.6"/>
<path d="M283,873.5 L280.2,866.6 L285.8,866.6 Z M290.2,873.5 L287.4,866.6 L293,866.6 Z" fill="#111"/>
<path class="k" d="M290.2,857 V867" stroke-width="1.1" stroke-dasharray="2.5 1.6"/>
<!-- right bolt -->
<path class="w" d="M340,847.3 H362 V859.3 H340 C337.6,858 336.9,855.5 336.9,853.3 C336.9,851 337.6,848.6 340,847.3 Z"/>
<path class="k" d="M341.5,847.3 V859.3 M358.5,847.3 V859.3" stroke-width="0.9"/>
<rect class="w" x="362" y="849.7" width="4.8" height="7.2"/>
<rect class="w" x="366.8" y="843.7" width="12" height="18"/>
<path class="w" d="M378.8,839 H395.5 V866.5 H378.8 Z"/>
<rect class="h" x="382.4" y="830.6" width="13.1" height="9.4"/>
<rect class="h" x="382.4" y="865.3" width="13.1" height="9.6"/>
<path class="k" d="M334.5,852.8 H346 M350,852.8 h3 M357,852.8 H372 M376,852.8 h3 M383,852.8 H399"/>
<path class="k" d="M347,845 C348,840.5 351.5,840 352.8,844 C354,849 354,856 352.8,861.5" stroke-width="1.2"/>
<path d="M352.3,867 L349.6,859.8 L355.4,860.2 Z" fill="#111"/>
<g class="ser"><text x="274" y="834.2" font-size="13.5">V</text>
<text x="279" y="886.9" font-size="13.5">V</text><text x="289.4" y="889" font-size="6.5">нар</text>
<text x="344.6" y="837.8" font-size="13.5">V</text><text x="354.4" y="840" font-size="6.5">дет</text>
<text x="333.4" y="887.5" font-size="15">м)</text></g>
</g>
<!-- (n) -->
<g>
<rect class="w" x="164.4" y="926" width="26.3" height="14.5"/>
<rect x="190.7" y="920" width="8.3" height="25.3" fill="url(#knurl)" stroke="#111" stroke-width="1"/>
<rect class="w" x="199" y="920" width="16.9" height="25.3"/>
<rect class="h" x="206.3" y="911.8" width="9.6" height="8.2"/>
<rect class="h" x="206.3" y="945.3" width="9.6" height="8.4"/>
<path class="ax" d="M162,932.8 H218" stroke-dasharray="8 2.5 2 2.5"/>
<path class="w" d="M184.7,949 H190.7 V966 H199 V949 H202.7 V977.6 H184.7 Z"/>
<rect x="190.7" y="945.3" width="8.3" height="19.2" fill="#262626" stroke="#111" stroke-width="0.8"/>
<path d="M191.5,949 H198 M191.5,952 H198 M191.5,955 H198 M191.5,958 H198 M191.5,961 H198" stroke="#777" stroke-width="0.7" fill="none"/>
<path class="k" d="M173.5,921.5 C174.5,918 178,917.5 179.3,921 C180.6,926 180.6,934 179.4,940" stroke-width="1.2"/>
<path d="M178.7,945.6 L176,938.4 L181.8,938.8 Z" fill="#111"/>
<path class="k" d="M180,976.4 V961.5" marker-end="url(#ah)" stroke-width="1.8"/>
<!-- right -->
<path class="w" d="M226,921.3 H232.6 V943 H226 C223.8,940 223,936 223,932.2 C223,928.4 223.8,924.4 226,921.3 Z"/>
<rect x="232.6" y="919" width="37.2" height="26.3" fill="url(#knurl)" stroke="#111" stroke-width="1"/>
<rect class="w" x="269.8" y="921.3" width="13.2" height="22.7"/>
<rect class="h" x="271" y="911.8" width="12" height="9.5"/>
<rect class="h" x="271" y="944" width="12" height="9.7"/>
<path d="M236,932.8 H268" stroke="#fff" stroke-width="1.6" stroke-dasharray="7 2.5 2 2.5" fill="none"/>
<path class="k" d="M220.7,932.8 H232 M270,932.8 H287.7"/>
<path class="w" d="M250.6,949 H256.6 V966 H265 V949 H268.6 V977.6 H250.6 Z"/>
<rect x="256.600" y="945.3" width="8.4" height="19.2" fill="#262626" stroke="#111" stroke-width="0.8"/>
<path d="M257.4,949 H264 M257.4,952 H264 M257.4,955 H264 M257.4,958 H264 M257.4,961 H264" stroke="#777" stroke-width="0.7" fill="none"/>
<path class="k" d="M224.5,920 C221,924 220.6,934 222.6,940 M228,921 C229.6,926 229.8,934 228.6,940" stroke-width="1.2"/>
<path d="M228.2,945.6 L225.4,938.4 L231.2,938.8 Z" fill="#111"/>
<path class="k" d="M262.6,914.2 H241.6" marker-end="url(#ah)" stroke-width="1.8"/>
<g class="ser"><text x="168.8" y="993" font-size="15.4">S</text><text x="177.8" y="995" font-size="8">поп.</text>
<text x="244.2" y="908.2" font-size="14.6">S</text><text x="252.8" y="910.6" font-size="8">пр</text>
<text x="218.4" y="995.5" font-size="15">н)</text></g>
</g>
<!-- (o) -->
<g>
<rect class="w" x="304" y="919" width="6" height="22.7"/>
<rect class="w" x="316" y="919" width="10.7" height="26.3"/>
<rect class="w" x="326.7" y="923.7" width="9.6" height="16.8"/>
<path class="w" d="M336.3,927.3 H340 C341.6,928.6 342.3,930.6 342.3,932.7 C342.3,934.8 341.6,936.8 340,938.1 H336.3 Z"/>
<path class="k" d="M284.8,932.8 H292 M312,932.8 h3 M319,932.8 h3 M326,932.8 H334 M345,932.8 h4.5"/>
<path class="b" d="M310,931 H316 V951.3 H317.1 V971.6 H308.7 V951.3 H310 Z"/>
<path d="M310,931 L316,936 V931 Z" fill="#111"/>
<path class="k" d="M294.5,920.5 C291,924 290.6,934 292.6,940 M297.5,921 C299.6,926 299.8,934 298.6,940" stroke-width="1.2"/>
<path d="M298,945.4 L295.2,938.2 L301,938.6 Z" fill="#111"/>
<path class="k" d="M320.7,968 V953" marker-end="url(#ah)" stroke-width="1.8"/>
<g class="ser"><text x="326.2" y="966.8" font-size="15">S</text><text x="334.6" y="968.8" font-size="8">поп.</text>
<text x="311.2" y="996.5" font-size="15">о)</text></g>
</g>



</g>
<!--/BOT-->

<!-- list 1 -->
<g class="li" id="list1">
<text x="415.6" y="248.0">1 – шпиндельная бабка;</text>
<text x="415.6" y="265.9">2 – шпиндель;</text>
<text x="415.6" y="283.8">3 – поперечные суппорты;</text>
<text x="415.6" y="301.7">4 – револьверная головка;</text>
<text x="415.6" y="319.6">5 – револьверный суппорт;</text>
<text x="415.6" y="337.5">6 – упор специальный;</text>
<text x="415.6" y="355.4">7 – заготовка-пруток</text>
</g>

<!-- list 2 -->
<g class="li" id="list2">
<text x="444.6" y="535.4">Обработка:</text>
<text x="444.6" y="553.6">а – проходным резцом;</text>
<text x="444.6" y="571.8">б, в – конической и</text>
<text x="444.6" y="590.0">фасонной поверхности</text>
<text x="444.6" y="608.2">проходным резцом;</text>
<text x="444.6" y="626.5">г – тангенциальным</text>
<text x="444.6" y="644.7">резцом;</text>
<text x="444.6" y="662.9">д – двумя проходными</text>
<text x="444.6" y="681.1">резцами;</text>
<text x="444.6" y="699.3">е – обточка проходным</text>
<text x="444.6" y="717.5">резцом и сверление;</text>
<text x="444.6" y="735.7">ж – сверление с</text>
<text x="444.6" y="753.9">быстросверлильного</text>
<text x="444.6" y="772.1">приспособления;</text>
<text x="444.6" y="790.3">з – центровка;</text>
<text x="444.6" y="808.5">и – расточка канавки;</text>
<text x="444.6" y="826.8">к – обточка фасонным</text>
<text x="444.6" y="845.0">резцом;</text>
<text x="444.6" y="863.2">л – нарезание резьбы</text>
<text x="444.6" y="881.4">невращающейся плашкой;</text>
<text x="444.6" y="899.6">м – нарезание резьбы</text>
<text x="444.6" y="917.8">методом обгона;</text>
<text x="444.6" y="936.0">н – накатка коротких и</text>
<text x="444.6" y="954.2">длинных рифлений;</text>
<text x="444.6" y="972.4">о – отрезка детали</text>
</g>

</g>
<!-- end -->
</svg>
</body>
</html>
